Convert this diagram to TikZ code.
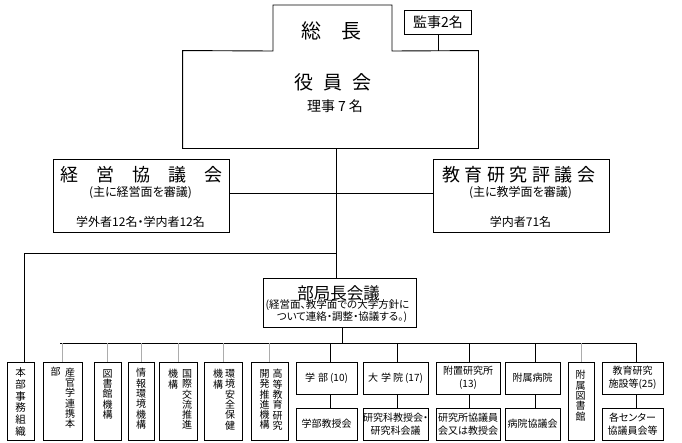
\documentclass[tikz,border=0pt]{standalone}
\usepackage{fontspec}
\setmainfont{Noto Sans CJK JP}[RawFeature=+palt]
\begin{document}
\begin{tikzpicture}[x=1pt,y=-1pt,line width=0.9pt,
  box/.style={draw,inner sep=0pt,align=center},
  tx/.style={inner sep=0pt,align=center},
  vt/.style={inner sep=0pt,align=center,anchor=north,font=\fontsize{10}{10.3}\selectfont},
  bt/.style={font=\fontsize{10}{12.5}\selectfont},
  tallbox/.style={box,minimum height=78pt},
  lowbox/.style={box,bt,minimum height=32pt},
  gline/.style={draw=gray!65}]
\useasboundingbox (0,0) rectangle (682,442);
% ---- top: president + board
\node[minimum width=295pt,minimum height=97pt,inner sep=0pt] (yakuin) at (330.5,99.5) {};
\draw (yakuin.south west) -- (yakuin.north west) -- (273,51) -- (273,5) -- (392,5) -- (392,51) -- (yakuin.north east) -- (yakuin.south east) -- cycle;
\node[tx,font=\fontsize{20}{20}\selectfont] (socho) at (331,31) {総\hspace{20pt}長};
\node[tx,font=\fontsize{19}{19}\selectfont] (yakuint) at (333,82) {役\hspace{10pt}員\hspace{10pt}会};
\node[tx,font=\fontsize{14}{14}\selectfont] (riji) at (335,106) {理事\hspace{3pt}7\hspace{3pt}名};
\node[box,minimum width=67pt,minimum height=24pt,font=\fontsize{14}{14}\selectfont] (kanji) at (438,22) {監事2名};
\draw (kanji.south) -- (kanji.south |- yakuin.north);
% ---- councils
\node[box,minimum width=176pt,minimum height=73pt] (keiei) at (141,195.5) {};
\node[tx,font=\fontsize{18}{18}\selectfont] (keieit) at (141,175) {経\hspace{18pt}営\hspace{18pt}協\hspace{18pt}議\hspace{18pt}会};
\node[tx,font=\fontsize{12}{12}\selectfont] (keieis) at (140.5,193) {(主に経営面を審議)};
\node[tx,font=\fontsize{12}{12}\selectfont] (keieim) at (140.5,222) {学外者12名・学内者12名};
\node[box,minimum width=176pt,minimum height=73pt] (kyoiku) at (521,195.5) {};
\node[tx,font=\fontsize{18}{18}\selectfont] (kyoikut) at (518.5,175) {教\hspace{4.5pt}育\hspace{4.5pt}研\hspace{4.5pt}究\hspace{4.5pt}評\hspace{4.5pt}議\hspace{4.5pt}会};
\node[tx,font=\fontsize{12}{12}\selectfont] (kyoikus) at (520.5,193) {(主に教学面を審議)};
\node[tx,font=\fontsize{12}{12}\selectfont] (kyoikum) at (520.5,222) {学内者71名};
\coordinate (hy) at (0,193);
\draw (keiei.east |- hy) -- (kyoiku.west |- hy);
% ---- bukyokucho kaigi
\node[box,minimum width=153pt,minimum height=49pt] (bukyoku) at (339.5,302.5) {};
\node[tx,font=\fontsize{16.5}{16.5}\selectfont] (bukyokut) at (338.5,293) {部局長会議};
\node[tx,font=\fontsize{10.5}{10.5}\selectfont] (bukyoku1) at (337.5,305.5) {(経営面、教学面での大学方針に};
\node[tx,font=\fontsize{10.5}{10.5}\selectfont] (bukyoku2) at (342,317.5) {ついて連絡・調整・協議する。)};
\coordinate (tk) at (336,253);
\draw (yakuin.south -| tk) -- (bukyoku.north -| tk);
% ---- bottom row boxes
\node[tallbox,minimum width=27pt] (honbu) at (20.5,401) {};
\node[vt,font=\fontsize{10.5}{11.7}\selectfont] (honbut) at (20.5,367.5) {本\\部\\事\\務\\組\\織};
\node[tallbox,minimum width=39pt] (sankan) at (62.5,401) {};
\node[vt] (sankan1) at (70,367.5) {産\\官\\学\\連\\携\\本};
\node[vt] (sankan2) at (55.5,366.5) {部};
\node[tallbox,minimum width=27pt] (tosho) at (107.5,401) {};
\node[vt] (tosho1) at (107.5,369) {図\\書\\館\\機\\構};
\node[tallbox,minimum width=26pt] (joho) at (141,401) {};
\node[vt] (joho1) at (141,368) {情\\報\\環\\境\\機\\構};
\node[tallbox,minimum width=38pt] (kokusai) at (178,401) {};
\node[vt] (kokusai1) at (187,369) {国\\際\\交\\流\\推\\進};
\node[vt] (kokusai2) at (173,369) {機\\構};
\node[tallbox,minimum width=38pt] (kankyo) at (223,401) {};
\node[vt] (kankyo1) at (230,369) {環\\境\\安\\全\\保\\健};
\node[vt] (kankyo2) at (218,369) {機\\構};
\node[tallbox,minimum width=37pt] (koto) at (269.5,401) {};
\node[vt] (koto1) at (277.5,369) {高\\等\\教\\育\\研\\究};
\node[vt] (koto2) at (264.5,369) {開\\発\\推\\進\\機\\構};
\node[lowbox,minimum width=61pt] (gakubu) at (326.5,378) {学\hspace{3pt}部\hspace{2pt}(10)};
\node[lowbox,minimum width=61pt] (gakubuk) at (326.5,424) {学部教授会};
\node[lowbox,minimum width=65pt] (daigakuin) at (395.5,378) {大\hspace{3pt}学\hspace{2pt}院\hspace{2pt}(17)};
\node[lowbox,minimum width=65pt] (daigakuink) at (395.5,424) {研究科教授会・\\研究科会議};
\node[lowbox,minimum width=64pt] (fuchi) at (468,378) {附置研究所\\(13)};
\node[lowbox,minimum width=64pt] (fuchik) at (468,424) {研究所協議員\\会又は教授会};
\node[lowbox,minimum width=55pt] (byoin) at (532.5,378) {附属病院};
\node[lowbox,minimum width=55pt] (byoink) at (532.5,424) {病院協議会};
\node[tallbox,minimum width=26pt] (fztosho) at (581,401) {};
\node[vt] (fztosho1) at (580.5,370) {附\\属\\図\\書\\館};
\node[lowbox,minimum width=61pt] (shisetsu) at (632.5,378) {教育研究\\施設等(25)};
\node[lowbox,minimum width=61pt] (shisetsuk) at (632.5,424) {各センター\\協議員会等};
% ---- connectors
\draw ([xshift=4pt]honbu.north) |- (tk);
\coordinate (bus) at (0,343);
\draw ([xshift=2.5pt]bukyoku.south) -- ([xshift=2.5pt]bukyoku.south |- bus);
\draw ([xshift=-2.5pt]sankan.north |- bus) -- ([xshift=3.5pt]shisetsu.north |- bus);
\foreach \b in {sankan,tosho,joho,kokusai,kankyo,koto,fztosho}
  \draw[gline] (\b.north |- bus) -- (\b.north);
\foreach \b/\s in {gakubu/4,daigakuin/1.5,fuchi/1,byoin/2.5,shisetsu/3.5}
  \draw ([xshift=\s pt]\b.north |- bus) -- ([xshift=\s pt]\b.north);
\foreach \a/\c/\s in {gakubu/gakubuk/4,daigakuin/daigakuink/1.5,fuchi/fuchik/1,byoin/byoink/2.5,shisetsu/shisetsuk/3.5}
  \draw ([xshift=\s pt]\a.south) -- ([xshift=\s pt]\c.north);
\end{tikzpicture}
\end{document}
